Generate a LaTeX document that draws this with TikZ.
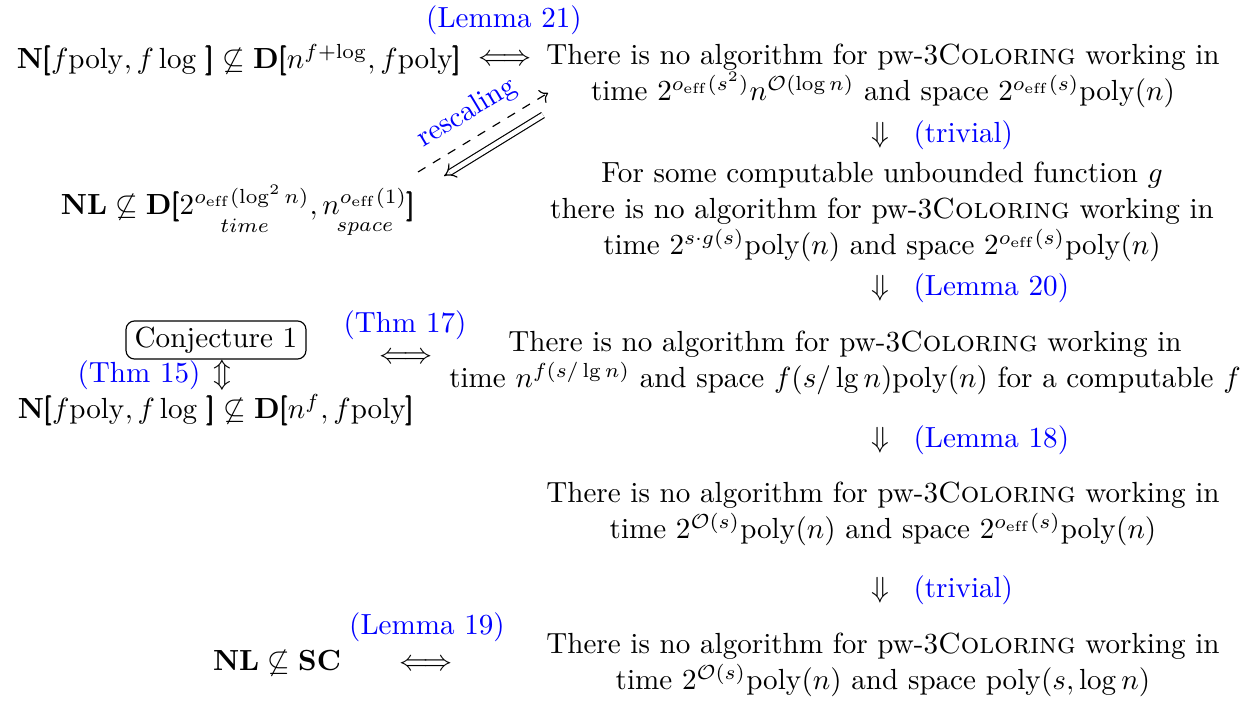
\documentclass[tikz,border=0pt]{standalone}
\usepackage{amsmath,amssymb}
\usepackage{tikz}
\usetikzlibrary{arrows.meta,positioning}
\newcommand{\oeff}{o_{\mathrm{eff}}}
\newcommand{\pwcol}{pw-3\textsc{Coloring}}
\newcommand{\bopen}{\pmb{[}}
\newcommand{\bclose}{\pmb{]}}

\begin{document}
\begin{tikzpicture}[x=0.3436pt, y=-0.3436pt, every node/.style={inner sep=1pt, align=center, font=\fontsize{10}{12.4}\selectfont}, lbl/.style={text=blue}]
  \useasboundingbox (0,0) rectangle (1245,700);

  % right column
  \node (ra) at (883,76) {There is no algorithm for \pwcol{} working in\\
    time $2^{\oeff(s^2)}n^{\mathcal{O}(\log n)}$ and space $2^{\oeff(s)}\mathrm{poly}(n)$};
  \node (rb) at (882,212) {For some computable unbounded function $g$\\
    there is no algorithm for \pwcol{} working in\\
    time $2^{s\cdot g(s)}\mathrm{poly}(n)$ and space $2^{\oeff(s)}\mathrm{poly}(n)$};
  \node (rc) at (845,363) {There is no algorithm for \pwcol{} working in\\
    time $n^{f(s/\lg n)}$ and space $f(s/\lg n)\mathrm{poly}(n)$ for a computable $f$};
  \node (rd) at (883,514) {There is no algorithm for \pwcol{} working in\\
    time $2^{\mathcal{O}(s)}\mathrm{poly}(n)$ and space $2^{\oeff(s)}\mathrm{poly}(n)$};
  \node (re) at (883,665) {There is no algorithm for \pwcol{} working in\\
    time $2^{\mathcal{O}(s)}\mathrm{poly}(n)$ and space $\mathrm{poly}(s,\log n)$};

  % implications between them
  \node (da) at (880,135) {$\Downarrow$};
  \node[lbl, anchor=west] (dal) at (910,135) {(trivial)};
  \node (db) at (880,288) {$\Downarrow$};
  \node[lbl, anchor=west] (dbl) at (910,288) {(Lemma 20)};
  \node (dc) at (880,440) {$\Downarrow$};
  \node[lbl, anchor=west] (dcl) at (910,440) {(Lemma 18)};
  \node (dd) at (880,590) {$\Downarrow$};
  \node[lbl, anchor=west] (ddl) at (910,590) {(trivial)};

  % left column
  \node (la) at (239,60) {$\mathbf{N}\bopen f\mathrm{poly}, f\log\,\bclose \not\subseteq \mathbf{D}\bopen n^{f+\log}, f\mathrm{poly}\bclose$};
  \node (ea) at (505,60) {$\iff$};
  \node[lbl] (eal) at (504,20) {(Lemma 21)};

  \node (lb) at (238,212) {$\mathbf{NL} \not\subseteq \mathbf{D}\bopen\underset{time}{2^{\oeff(\log^2 n)}}, \underset{space}{n^{\oeff(1)}}\bclose$};

  \node[draw, rounded corners=3pt, inner xsep=3pt, inner ysep=2pt] (conj) at (216,340) {Conjecture 1};
  \node (ub) at (222,375) {$\Updownarrow$};
  \node[lbl, anchor=east] (ubl) at (204,375) {(Thm 15)};
  \node (lc) at (216,410) {$\mathbf{N}\bopen f\mathrm{poly}, f\log\,\bclose \not\subseteq \mathbf{D}\bopen n^{f}, f\mathrm{poly}\bclose$};
  \node (eb) at (406,358) {$\iff$};
  \node[lbl] (ebl) at (405,325) {(Thm 17)};

  \node (ld) at (277,663) {$\mathbf{NL} \not\subseteq \mathbf{SC}$};
  \node (ec) at (426,665) {$\iff$};
  \node[lbl] (ecl) at (427,627) {(Lemma 19)};

  % rescaling
  \coordinate (sa) at (418,172);
  \coordinate (sb) at (548,93);
  \coordinate (sc) at (543,115);
  \coordinate (sd) at (444,176);
  \draw[dashed, ->] (sa) -- (sb);
  \draw[double, double distance=1.6pt, -Implies] (sc) -- (sd);
  \node[lbl, rotate=31] (resc) at (467,113) {rescaling};
\end{tikzpicture}
\end{document}
